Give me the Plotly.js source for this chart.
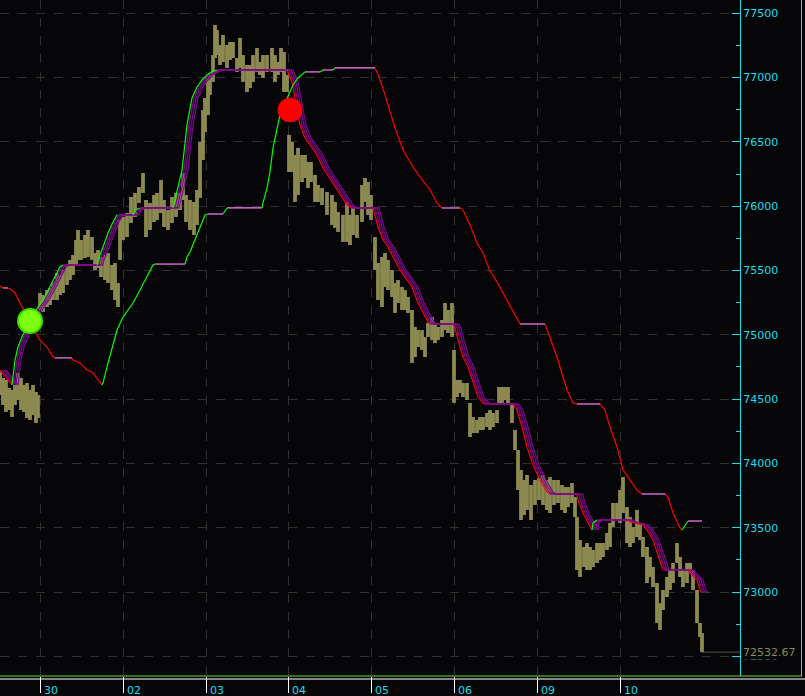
<!DOCTYPE html>
<html>
<head>
<meta charset="utf-8">
<script src="https://cdn.plot.ly/plotly-3.0.1.min.js"></script>
<style>html,body{margin:0;padding:0;background:#060608;}#chart{width:805px;height:696px;}</style>
</head>
<body>
<div id="chart"></div>
<script>
// ---- axis data ----
const dayStart = [0, 83, 166, 248, 331, 414, 497, 580];
const dayLabels = ['30', '02', '03', '04', '05', '06', '09', '10'];
const yTickVals = [72500, 73000, 73500, 74000, 74500, 75000, 75500, 76000, 76500, 77000, 77500];
const yTickText = ['72500', '73000', '73500', '74000', '74500', '75000', '75500', '76000', '76500', '77000', '77500'];
const lastPrice = 72532.67;

// ---- price (bar index, high, low) ----
const priceBar = [-40,-37,-34,-31,-28,-25,-22,-19,-16,-13,-10,-7,-4,-2,
  0,3,7,10,13,17,20,23,27,30,33,36,38,41,45,48,52,55,58,61,65,68,72,75,78,
  80,83,87,91,95,99,103,106,110,114,117,121,124,128,132,136,140,143,146,150,154,157,
  160,163,165,168,170,173,175,177,180,183,187,190,193,197,200,203,207,210,213,217,220,223,227,232,235,238,241,244,247,
  249,252,255,258,262,265,268,271,275,278,282,287,292,295,298,303,307,310,313,317,322,325,328,331,
  335,338,342,345,348,352,355,358,362,365,368,372,375,378,382,385,388,392,395,398,402,405,408,412,
  414,417,420,423,427,430,433,437,440,443,447,450,453,457,459,462,465,468,472,475,478,481,484,487,491,495,
  499,503,507,510,514,518,522,525,528,532,535,537,540,544,547,550,553,557,560,563,567,570,573,577,
  580,583,587,590,593,597,600,603,607,610,613,617,620,623,627,630,633,637,640,643,647,650,653,657,660,662];
const priceHigh = [74711,74664,74649,74586,74571,74610,74703,74664,74610,74625,74571,74610,74555,74532,
  75325,75309,75348,75364,75403,75481,75465,75504,75543,75582,75620,75737,75815,75737,75776,75815,75760,75636,75659,75605,75620,75636,75543,75558,75403,
  75893,75916,75947,76072,76103,76149,76258,76048,76025,76087,76103,76204,76048,75970,76072,76103,76103,76258,76087,76048,76033,76126,
  76499,76748,76841,76997,77020,77175,77409,77370,77253,77331,77253,77277,77277,77152,77308,77175,77098,77098,77175,77230,77121,77175,77175,77230,77175,77121,77230,77199,77020,
  76554,76499,76398,76453,76398,76398,76344,76344,76243,76165,76141,76110,76087,76033,75955,75932,76033,75932,75986,75932,76165,76219,76188,76087,
  75760,75558,75605,75636,75582,75504,75403,75426,75372,75348,75294,75193,75061,75037,75037,74983,75092,75138,75092,75061,75115,75247,75193,75247,
  74882,74649,74649,74625,74625,74470,74361,74338,74361,74361,74392,74415,74392,74415,74594,74594,74594,74594,74470,74260,74104,73949,73871,73910,73832,73871,
  73887,73910,73871,73894,73871,73871,73832,73816,73816,73847,73739,73583,73404,73350,73381,73350,73327,73381,73381,73381,73459,73537,73692,73692,
  73793,73894,73661,73583,73505,73638,73537,73428,73350,73272,73195,73070,72914,73016,73117,73171,73226,73381,73272,73171,73226,73226,73171,73016,72759,72681];
const priceLow = [74532,74454,74400,74415,74361,74454,74493,74415,74400,74353,74338,74376,74314,74353,
  75193,75177,75216,75232,75271,75271,75309,75325,75387,75426,75465,75543,75582,75582,75597,75605,75582,75504,75519,75449,75426,75403,75348,75271,75216,
  75582,75737,75760,75869,75916,76025,76103,75760,75815,75877,75893,75947,75838,75815,75869,75916,75970,76048,75877,75815,75776,75854,
  76064,76359,76577,76709,76865,76966,77152,77175,77098,77121,77075,77137,77152,77044,77075,76966,76888,76919,76966,77044,77020,76997,77044,77044,76966,77020,77044,76888,76888,
  76266,76266,76033,76087,76188,76219,76141,76188,76033,76033,76009,75932,75854,75831,75799,75722,75722,75698,75776,75753,75877,76033,75932,75893,
  75504,75271,75216,75372,75348,75294,75170,75247,75193,75193,75170,74781,74827,74905,74882,74827,74983,74959,74936,74959,74983,75037,75014,74983,
  74470,74516,74547,74516,74493,74205,74236,74236,74260,74260,74283,74260,74283,74314,74470,74470,74493,74470,74314,74104,73793,73560,73599,73638,73560,73677,
  73715,73677,73638,73614,73677,73692,73638,73614,73661,73692,73583,73171,73117,73195,73171,73171,73195,73226,73249,73272,73327,73350,73505,73560,
  73537,73614,73381,73350,73381,73428,73404,73272,73070,73117,73039,72759,72705,72860,72961,73016,73070,73226,73117,73039,73070,73148,73016,72759,72650,72533];

// ---- slow trailing line ----
const slowBar = [-40,-37,-32,-30,-25,-20,-17,-9,0,7,13,15,32,33,40,47,50,53,58,62,63,67,72,77,83,93,100,107,113,115,145,147,150,158,165,168,183,187,222,223,227,230,233,237,240,245,250,253,258,265,280,283,293,295,335,337,340,345,355,363,373,380,390,397,402,420,423,430,437,443,450,457,463,470,477,480,505,510,517,523,527,533,537,560,565,570,577,583,590,597,602,625,628,633,640,642,647,648,662];
const slowVal = [75380,75364,75364,75356,75325,75247,75193,75076,74959,74905,74827,74820,74820,74804,74781,74726,74718,74703,74649,74610,74625,74750,74905,75037,75138,75247,75348,75449,75543,75550,75550,75605,75644,75799,75932,75939,75939,75986,75986,76025,76141,76266,76453,76608,76709,76802,76888,76942,76997,77044,77044,77059,77059,77075,77075,77044,76981,76865,76608,76437,76305,76227,76126,76025,75986,75986,75970,75854,75714,75636,75496,75411,75325,75216,75115,75084,75084,74983,74827,74672,74571,74470,74462,74462,74415,74283,74128,73949,73871,73793,73762,73762,73739,73614,73498,73482,73544,73552,73552];

// ---- fast ribbon edge ----
const fastBar = [-40,-34,-28,-25,-22,-18,-10,-2,3,10,15,20,23,57,58,63,68,73,77,93,95,100,133,135,138,142,147,152,157,162,167,172,177,247,252,255,260,265,270,277,283,292,300,307,312,333,338,343,348,353,360,365,372,378,383,388,390,413,415,418,423,428,433,438,443,445,473,477,482,487,493,500,507,510,537,538,543,550,552,553,557,587,590,603,607,613,620,623,625,647,652,657,660,662];
const fastVal = [74726,74672,74610,74804,74905,74983,75107,75216,75271,75372,75449,75527,75543,75543,75582,75683,75791,75877,75932,75932,75970,75986,75986,76048,76149,76281,76631,76841,76927,76981,77020,77044,77059,77059,76966,76841,76631,76530,76476,76398,76297,76188,76087,76009,75986,75986,75838,75737,75683,75605,75504,75449,75372,75247,75170,75099,75084,75084,75053,74959,74827,74750,74625,74516,74470,74462,74462,74415,74283,74128,73987,73871,73778,73762,73762,73715,73614,73505,73482,73537,73560,73560,73544,73521,73482,73404,73249,73171,73171,73171,73132,73093,73016,72992];
const ribbonLags = [2, 4, 6];

// ---- signals ----
const buySignal = {bar: -10, value: 75107};
const sellSignal = {bar: 250, value: 76748};

const CYAN = '#19dde8', GRID = '#303030', BG = '#060608', OLIVE = '#8c8a50';
const FONT = 'DejaVu Sans, Verdana, sans-serif';

function coloredRuns(xs, ys, cols, width) {
  const out = [];
  let i = 0;
  const dir = k => (ys[k+1] > ys[k] ? 'up' : (ys[k+1] < ys[k] ? 'down' : 'flat'));
  while (i < xs.length - 1) {
    const d = dir(i);
    let j = i;
    while (j < xs.length - 1 && dir(j) === d) j++;
    out.push({type:'scatter', mode:'lines', x: xs.slice(i, j+1), y: ys.slice(i, j+1),
      line:{color: cols[d], width: width}, hoverinfo:'skip'});
    i = j;
  }
  return out;
}

const traces = [];
traces.push({type:'bar', x: priceBar, base: priceLow,
  y: priceHigh.map((h, k) => h - priceLow[k]), width: 3.8,
  marker:{color: OLIVE, line:{width:0}}, hoverinfo:'skip'});

traces.push({type:'scatter', mode:'lines', x:[priceBar[priceBar.length-1], 700], y:[lastPrice, lastPrice],
  line:{color:'#555555', width:1}, hoverinfo:'skip'});

ribbonLags.forEach(l => traces.push({type:'scatter', mode:'lines', x: fastBar.map(b => b + l), y: fastVal,
  line:{color:'#7a0a8a', width:1.2}, hoverinfo:'skip'}));

coloredRuns(fastBar, fastVal, {up:'#00ff00', down:'#ff0000', flat:'#8b008b'}, 1.2).forEach(t => traces.push(t));
coloredRuns(slowBar, slowVal, {up:'#00ff00', down:'#ff0000', flat:'#ff80ff'}, 1.2).forEach(t => traces.push(t));

traces.push({type:'scatter', mode:'markers', x:[buySignal.bar], y:[buySignal.value],
  marker:{size:24, color:'#7dff10', line:{color:'#33e000', width:2}}, hoverinfo:'skip'});
traces.push({type:'scatter', mode:'markers', x:[sellSignal.bar], y:[sellSignal.value],
  marker:{size:24, color:'#ff0000', line:{color:'#ee0000', width:1}}, hoverinfo:'skip'});

const annotations = dayStart.map((d, k) => ({x: d, xref:'x', y: -0.021, yref:'paper', text: dayLabels[k],
  showarrow:false, xanchor:'left', yanchor:'middle', xshift:2, font:{family:FONT, size:11, color:CYAN}}));
annotations.push({x:1, xref:'paper', xshift:2, y:lastPrice, yref:'y', text: lastPrice.toFixed(2),
  showarrow:false, xanchor:'left', yanchor:'middle', bgcolor:BG, borderpad:0,
  font:{family:FONT, size:11, color:OLIVE}});

const layout = {
  width:805, height:696,
  paper_bgcolor:BG, plot_bgcolor:BG,
  margin:{l:0, r:65, t:0, b:20},
  showlegend:false,
  barmode:'overlay',
  xaxis:{range:[-40, 700], tickmode:'array', tickvals: dayStart, ticktext: dayLabels, showticklabels:false,
    ticks:'outside', ticklen:16, tickcolor:'#ffffff', tickwidth:1,
    showgrid:true, gridcolor:GRID, griddash:'dash', gridwidth:1, zeroline:false, showline:false},
  yaxis:{side:'right', range:[72347, 77603], tickmode:'array', tickvals: yTickVals, ticktext: yTickText,
    ticks:'inside', ticklen:8, tickcolor:CYAN, tickwidth:1,
    showline:true, linecolor:CYAN, linewidth:1,
    showgrid:true, gridcolor:GRID, griddash:'dash', gridwidth:1, zeroline:false,
    tickfont:{family:FONT, size:11, color:CYAN},
    minor:{dtick:250, tick0:72250, ticks:'inside', ticklen:4, tickcolor:CYAN, showgrid:false}},
  shapes:[
    {type:'line', xref:'paper', yref:'paper', x0:0, x1:802/740, y0:0, y1:0, line:{color:'#6fd84e', width:1}},
    {type:'line', xref:'paper', yref:'paper', x0:801.5/740, x1:801.5/740, y0:0, y1:1, line:{color:'#6fd84e', width:1}},
    {type:'line', xref:'paper', yref:'paper', x0:0, x1:805/740, y0:-3/676, y1:-3/676, line:{color:'#ffffff', width:1}}
  ],
  annotations: annotations
};

Plotly.newPlot('chart', traces, layout, {staticPlot:true, displayModeBar:false});
</script>
</body>
</html>
